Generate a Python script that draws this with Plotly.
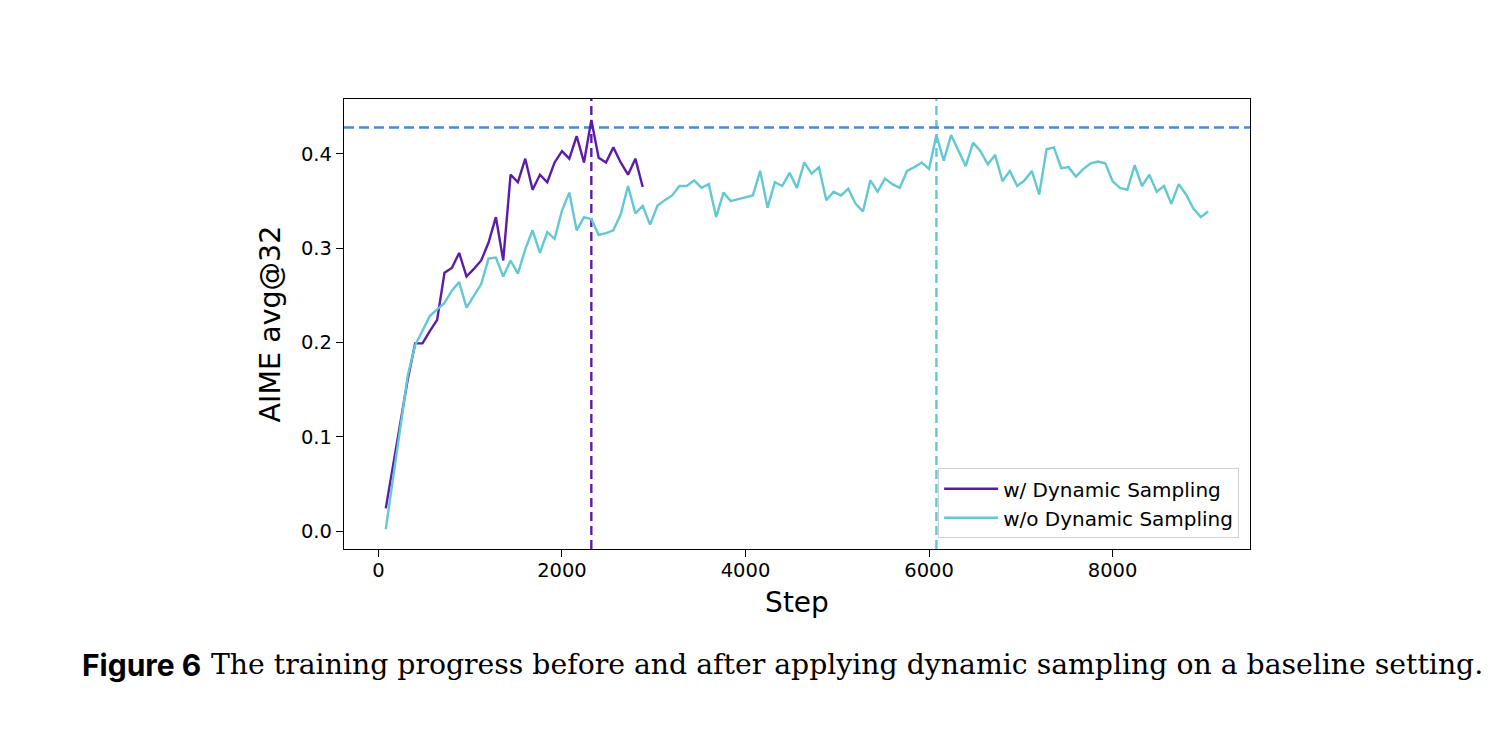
import plotly.graph_objects as go

# evaluation every 80 steps
steps_dyn = [80 * k for k in range(1, 37)]
aime_dyn = [0.024, 0.070, 0.116, 0.161, 0.199, 0.199, 0.212, 0.224, 0.274, 0.279,
            0.295, 0.270, 0.278, 0.287, 0.306, 0.333, 0.287, 0.378, 0.370, 0.395,
            0.362, 0.378, 0.370, 0.391, 0.403, 0.395, 0.419, 0.391, 0.436, 0.396,
            0.391, 0.407, 0.391, 0.378, 0.395, 0.365]

steps_base = [80 * k for k in range(1, 114)]
aime_base = [0.002, 0.056, 0.110, 0.165, 0.197, 0.213, 0.228, 0.235, 0.242, 0.255,
             0.264, 0.237, 0.250, 0.262, 0.289, 0.290, 0.270, 0.287, 0.273, 0.299,
             0.319, 0.295, 0.317, 0.310, 0.340, 0.359, 0.319, 0.333, 0.331, 0.314,
             0.316, 0.319, 0.336, 0.366, 0.337, 0.345, 0.325, 0.345, 0.351, 0.356,
             0.366, 0.366, 0.372, 0.364, 0.368, 0.333, 0.359, 0.350, 0.352, 0.354,
             0.356, 0.382, 0.343, 0.370, 0.366, 0.380, 0.364, 0.391, 0.379, 0.386,
             0.351, 0.360, 0.356, 0.363, 0.347, 0.339, 0.372, 0.360, 0.374, 0.368,
             0.364, 0.382, 0.386, 0.391, 0.384, 0.420, 0.393, 0.420, 0.403, 0.387,
             0.412, 0.403, 0.389, 0.399, 0.371, 0.382, 0.366, 0.372, 0.382, 0.357,
             0.405, 0.407, 0.385, 0.386, 0.376, 0.384, 0.390, 0.392, 0.390, 0.371,
             0.364, 0.362, 0.388, 0.366, 0.378, 0.360, 0.366, 0.347, 0.368, 0.357,
             0.342, 0.333, 0.339]

best_dyn_step = 2320
best_base_step = 6080
ref_level = 0.428

PURPLE = "#5b1ca8"
CYAN = "#62c8d3"
BLUE = "#4a88dc"

fig = go.Figure()
fig.add_trace(go.Scatter(x=steps_dyn, y=aime_dyn, mode="lines", name="w/ Dynamic Sampling",
                         line=dict(color=PURPLE, width=2.4)))
fig.add_trace(go.Scatter(x=steps_base, y=aime_base, mode="lines", name="w/o Dynamic Sampling",
                         line=dict(color=CYAN, width=2.4)))

fig.add_shape(type="line", xref="x", yref="paper", x0=best_dyn_step, x1=best_dyn_step, y0=0, y1=1,
              line=dict(color=PURPLE, width=2.4, dash="9px,5px"), layer="below")
fig.add_shape(type="line", xref="x", yref="paper", x0=best_base_step, x1=best_base_step, y0=0, y1=1,
              line=dict(color=CYAN, width=2.4, dash="9px,5px"), layer="below")
fig.add_shape(type="line", xref="paper", yref="y", x0=0, x1=1, y0=ref_level, y1=ref_level,
              line=dict(color=BLUE, width=2.4, dash="10px,5px"), layer="below")

axis_common = dict(showline=True, mirror=True, linecolor="black", linewidth=1.4,
                   ticks="outside", ticklen=7, tickwidth=1.4, tickcolor="black",
                   showgrid=False, zeroline=False,
                   tickfont=dict(family="DejaVu Sans", size=19.5, color="black"))

fig.update_xaxes(range=[-375, 9497], tickvals=[0, 2000, 4000, 6000, 8000],
                 ticklabelstandoff=-4,
                 title=dict(text="Step", font=dict(family="DejaVu Sans", size=28, color="black"),
                            standoff=11),
                 **axis_common)
fig.update_yaxes(range=[-0.0191, 0.4583], tickvals=[0.0, 0.1, 0.2, 0.3, 0.4],
                 tickformat=".1f",
                 title=dict(text="AIME avg@32", font=dict(family="DejaVu Sans", size=28.5, color="black"),
                            standoff=11),
                 **axis_common)

# caption below the axes
cap_y = (548.3 - 664) / 450
fig.add_annotation(text="<b>Figure 6</b>", xref="paper", yref="paper",
                   x=(79 - 343.3) / 905.7, y=cap_y, xanchor="left", yanchor="middle",
                   showarrow=False, font=dict(family="Inter", size=30, color="black"))
fig.add_annotation(text="The training progress before and after applying dynamic sampling on a baseline setting.",
                   xref="paper", yref="paper",
                   x=(208 - 343.3) / 905.7, y=cap_y, xanchor="left", yanchor="middle",
                   showarrow=False, font=dict(family="DejaVu Serif", size=28.3, color="black"))

fig.update_layout(
    width=1502, height=732,
    margin=dict(l=336, r=260, t=91, b=191),
    paper_bgcolor="white", plot_bgcolor="white",
    legend=dict(x=0.988, y=0.024, xanchor="right", yanchor="bottom",
                bgcolor="rgba(255,255,255,0.8)", bordercolor="#d0d0d0", borderwidth=1,
                font=dict(family="DejaVu Sans", size=20, color="black"),
                itemwidth=54, tracegroupgap=0),
    showlegend=True,
)

fig.write_html("out.html")
